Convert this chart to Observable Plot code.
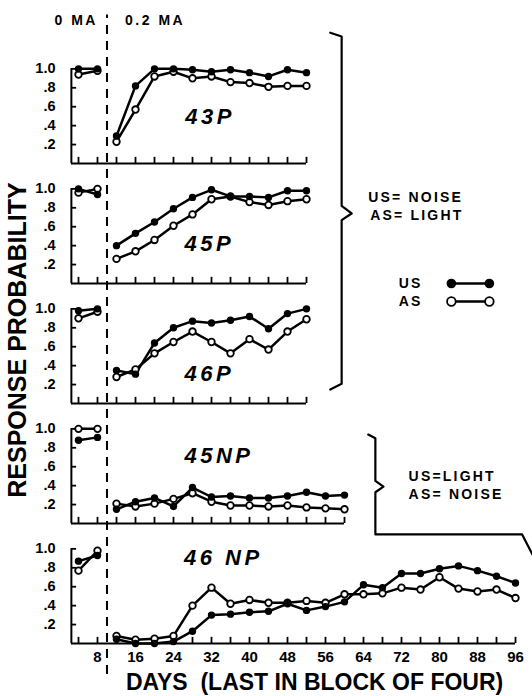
<!DOCTYPE html>
<html><head><meta charset="utf-8">
<script src="https://cdn.jsdelivr.net/npm/d3@7"></script>
<script src="https://cdn.jsdelivr.net/npm/@observablehq/plot@0.6"></script>
<style>
html,body{margin:0;padding:0;background:#fff;}
#chart svg{display:block;}
g[aria-description="legend-text"] text{letter-spacing:2.2px;}
g[aria-description="ma-title"] text{letter-spacing:2.5px;}
g[aria-description="panel-label"] text{letter-spacing:3.5px;}
</style>
</head><body><div id="chart"></div>
<script>
// ---------- data ----------
const panels = ["43P", "45P", "46P", "45NP", "46NP"];
const panelLabels = ["43P", "45P", "46P", "45NP", "46 NP"];
const axisEndDay = [52, 52, 52, 60, 96];

const days0MA = [4, 8];
const daysP = [12, 16, 20, 24, 28, 32, 36, 40, 44, 48, 52];
const days45NP = [12, 16, 20, 24, 28, 32, 36, 40, 44, 48, 52, 56, 60];
const days46NP = [12, 16, 20, 24, 28, 32, 36, 40, 44, 48, 52, 56, 60, 64, 68, 72, 76, 80, 84, 88, 92, 96];

// 0 MA (days 4, 8)
const us43P_0 = [1.0, 1.0],   as43P_0 = [0.94, 0.98];
const us45P_0 = [1.0, 0.94],  as45P_0 = [0.96, 1.0];
const us46P_0 = [0.98, 1.0],  as46P_0 = [0.90, 0.97];
const us45NP_0 = [0.88, 0.91], as45NP_0 = [1.0, 1.0];
const us46NP_0 = [0.87, 0.93], as46NP_0 = [0.77, 0.98];

// 0.2 MA
const us43P = [0.29, 0.82, 1.0, 1.0, 0.99, 0.97, 0.99, 0.96, 0.92, 0.99, 0.96];
const as43P = [0.23, 0.57, 0.92, 0.97, 0.90, 0.92, 0.86, 0.85, 0.81, 0.82, 0.82];
const us45P = [0.40, 0.53, 0.65, 0.79, 0.91, 0.99, 0.92, 0.92, 0.91, 0.98, 0.98];
const as45P = [0.26, 0.34, 0.46, 0.61, 0.73, 0.89, 0.92, 0.86, 0.83, 0.87, 0.89];
const us46P = [0.35, 0.31, 0.64, 0.80, 0.87, 0.85, 0.88, 0.92, 0.79, 0.95, 1.0];
const as46P = [0.28, 0.36, 0.53, 0.65, 0.76, 0.65, 0.53, 0.68, 0.57, 0.76, 0.89];
const us45NP = [0.15, 0.23, 0.27, 0.18, 0.38, 0.28, 0.29, 0.27, 0.27, 0.29, 0.33, 0.29, 0.30];
const as45NP = [0.21, 0.18, 0.21, 0.26, 0.32, 0.23, 0.19, 0.19, 0.18, 0.19, 0.17, 0.16, 0.15];
const us46NP = [0.045, 0.0, 0.0, 0.02, 0.13, 0.30, 0.31, 0.33, 0.34, 0.42, 0.35, 0.39, 0.44, 0.62, 0.59, 0.74, 0.74, 0.79, 0.82, 0.77, 0.71, 0.64];
const as46NP = [0.08, 0.04, 0.05, 0.08, 0.40, 0.59, 0.42, 0.46, 0.43, 0.43, 0.45, 0.43, 0.52, 0.52, 0.53, 0.59, 0.57, 0.70, 0.58, 0.55, 0.57, 0.48];

const xTickDays = [4, 8, 12, 16, 20, 24, 28, 32, 36, 40, 44, 48, 52, 56, 60, 64, 68, 72, 76, 80, 84, 88, 92, 96];
const xLabelDays = [8, 16, 24, 32, 40, 48, 56, 64, 72, 80, 88, 96];
const yTicks = [0.2, 0.4, 0.6, 0.8, 1.0];
const breakDay = 10;
const axisStartDay = 2.5;

// ---------- build rows ----------
const rows = [];
function add(panel, days, values, series, phase) {
  values.forEach((v, i) => rows.push({panel, day: days[i], value: v, series, phase}));
}
add("43P", days0MA, us43P_0, "US", 0); add("43P", days0MA, as43P_0, "AS", 0);
add("45P", days0MA, us45P_0, "US", 0); add("45P", days0MA, as45P_0, "AS", 0);
add("46P", days0MA, us46P_0, "US", 0); add("46P", days0MA, as46P_0, "AS", 0);
add("45NP", days0MA, us45NP_0, "US", 0); add("45NP", days0MA, as45NP_0, "AS", 0);
add("46NP", days0MA, us46NP_0, "US", 0); add("46NP", days0MA, as46NP_0, "AS", 0);
add("43P", daysP, us43P, "US", 1); add("43P", daysP, as43P, "AS", 1);
add("45P", daysP, us45P, "US", 1); add("45P", daysP, as45P, "AS", 1);
add("46P", daysP, us46P, "US", 1); add("46P", daysP, as46P, "AS", 1);
add("45NP", days45NP, us45NP, "US", 1); add("45NP", days45NP, as45NP, "AS", 1);
add("46NP", days46NP, us46NP, "US", 1); add("46NP", days46NP, as46NP, "AS", 1);

const panelInfo = panels.map((p, i) => ({panel: p, end: axisEndDay[i], label: panelLabels[i]}));
const xTickRows = panelInfo.flatMap(p => xTickDays.filter(d => d <= p.end).map(d => ({panel: p.panel, day: d})));
const yTickRows = panels.flatMap(p => yTicks.map(v => ({panel: p, v})));

// panel label placement (day, value)
const panelLabelPos = [
  {panel: "43P", x: 26.5, y: 0.49},
  {panel: "45P", x: 26.3, y: 0.42},
  {panel: "46P", x: 26.3, y: 0.31},
  {panel: "45NP", x: 26.3, y: 0.71},
  {panel: "46NP", x: 26.2, y: 0.90}
].map((d, i) => ({...d, text: panelLabels[i]}));

// annotations (in day / probability units of the facet they sit in)
const bracket1 = [
  {x: 57.0, y: 2.65}, {x: 59.4, y: 2.61}, {x: 59.4, y: 0.82}, {x: 61.5, y: 0.74},
  {x: 59.4, y: 0.67}, {x: 59.4, y: -1.06}, {x: 57.0, y: -1.12}
].map(d => ({...d, panel: "45P"}));
const bracket2 = [
  {x: 65.0, y: 0.94}, {x: 66.5, y: 0.90}, {x: 66.5, y: 0.45}, {x: 68.2, y: 0.39},
  {x: 66.5, y: 0.33}, {x: 66.5, y: -0.115}, {x: 97.4, y: -0.115}, {x: 99.6, y: -0.33}
].map(d => ({...d, panel: "45NP"}));
const legendText = [
  {panel: "45P", x: 65.0, y: 0.91, text: "US= NOISE"},
  {panel: "45P", x: 65.4, y: 0.72, text: "AS= LIGHT"},
  {panel: "45P", x: 71.4, y: 0.0, text: "US"},
  {panel: "45P", x: 71.4, y: -0.19, text: "AS"},
  {panel: "45NP", x: 73.5, y: 0.50, text: "US=LIGHT"},
  {panel: "45NP", x: 73.5, y: 0.31, text: "AS= NOISE"}
];
const legendKey = [
  {panel: "45P", x: 82.5, y: 0.0, series: "US"}, {panel: "45P", x: 90.5, y: 0.0, series: "US"},
  {panel: "45P", x: 82.5, y: -0.19, series: "AS"}, {panel: "45P", x: 90.5, y: -0.19, series: "AS"}
];
const maTitleLeft = [{panel: "43P", x: breakDay - 1.9, y: 1.51, text: "0 MA"}];
const maTitleRight = [{panel: "43P", x: breakDay + 3.8, y: 1.51, text: "0.2 MA"}];
const dashRule = [{panel: "43P", x: breakDay, y1: -5.40, y2: 1.57}];
const yTitle = [{panel: "46P", x: -8.8, y: 0.67, text: "RESPONSE PROBABILITY"}];
const xTitle = [{panel: "46NP", x: 53.7, y: -0.41, text: "DAYS  (LAST IN BLOCK OF FOUR)"}];

const fmtY = d => d === 1 ? "1.0" : "." + Math.round(d * 10);

const chart = Plot.plot({
  width: 532,
  height: 696,
  marginLeft: 59,
  marginRight: 0,
  marginTop: 55,
  marginBottom: 50,
  style: {fontFamily: "'Liberation Sans', Arial, Helvetica, sans-serif", fontWeight: "bold", color: "black", background: "white"},
  x: {domain: [0, 99.58]},
  y: {domain: [0, 1.12]},
  fy: {domain: panels, axis: null, paddingInner: 0.1157, paddingOuter: 0},
  marks: [
    // axes frame
    Plot.ruleX(panelInfo, {x: axisStartDay, y1: 0, y2: 1.0, fy: "panel", stroke: "black", strokeWidth: 2}),
    Plot.ruleY(panelInfo, {y: 0, x1: axisStartDay, x2: "end", fy: "panel", stroke: "black", strokeWidth: 2}),
    Plot.ruleX(xTickRows, {x: "day", y1: 0, y2: 0.065, fy: "panel", stroke: "black", strokeWidth: 1.8}),
    Plot.ruleY(yTickRows, {y: "v", x1: axisStartDay, x2: axisStartDay + 1.1, fy: "panel", stroke: "black", strokeWidth: 1.8}),
    Plot.axisY({ticks: yTicks, tickFormat: fmtY, tickSize: 0, tickPadding: 4, fontSize: 14.5, label: null, facetAnchor: "left"}),
    Plot.axisX({ticks: xLabelDays, tickSize: 0, tickPadding: 8, fontSize: 15, label: null, facetAnchor: "bottom"}),
    // break line
    Plot.ruleX(dashRule, {x: "x", y1: "y1", y2: "y2", fy: "panel", stroke: "black", strokeWidth: 2, strokeDasharray: "9,7"}),
    // data
    Plot.line(rows, {x: "day", y: "value", z: d => d.series + d.phase, fy: "panel", stroke: "black", strokeWidth: 2.5}),
    Plot.dot(rows.filter(d => d.series === "AS"), {x: "day", y: "value", fy: "panel", r: 3.3, fill: "white", stroke: "black", strokeWidth: 1.8}),
    Plot.dot(rows.filter(d => d.series === "US"), {x: "day", y: "value", fy: "panel", r: 3.7, fill: "black"}),
    // panel labels
    Plot.text(panelLabelPos, {x: "x", y: "y", text: "text", fy: "panel", textAnchor: "start", fontSize: 22, fontStyle: "italic", ariaDescription: "panel-label"}),
    // titles
    Plot.text(maTitleLeft, {x: "x", y: "y", text: "text", fy: "panel", textAnchor: "end", fontSize: 14, ariaDescription: "ma-title"}),
    Plot.text(maTitleRight, {x: "x", y: "y", text: "text", fy: "panel", textAnchor: "start", fontSize: 14, ariaDescription: "ma-title"}),
    Plot.text(yTitle, {x: "x", y: "y", text: "text", fy: "panel", rotate: -90, fontSize: 25}),
    Plot.text(xTitle, {x: "x", y: "y", text: "text", fy: "panel", fontSize: 23}),
    // brackets and legend
    Plot.line(bracket1, {x: "x", y: "y", fy: "panel", stroke: "black", strokeWidth: 2.2, strokeLinejoin: "round"}),
    Plot.line(bracket2, {x: "x", y: "y", fy: "panel", stroke: "black", strokeWidth: 2.2, strokeLinejoin: "round"}),
    Plot.text(legendText, {x: "x", y: "y", text: "text", fy: "panel", textAnchor: "start", fontSize: 14, ariaDescription: "legend-text"}),
    Plot.line(legendKey, {x: "x", y: "y", z: "series", fy: "panel", stroke: "black", strokeWidth: 2.6}),
    Plot.dot(legendKey.filter(d => d.series === "AS"), {x: "x", y: "y", fy: "panel", r: 4.3, fill: "white", stroke: "black", strokeWidth: 1.8}),
    Plot.dot(legendKey.filter(d => d.series === "US"), {x: "x", y: "y", fy: "panel", r: 4.8, fill: "black"})
  ]
});
document.getElementById("chart").appendChild(chart);
</script>
</body></html>
